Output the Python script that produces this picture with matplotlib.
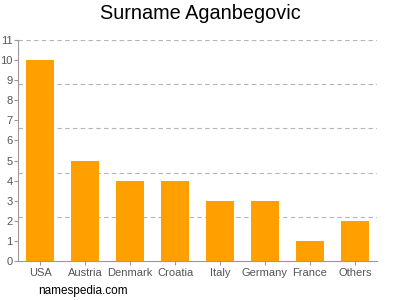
import matplotlib.pyplot as plt
import numpy as np

countries = ['USA', 'Austria', 'Denmark', 'Croatia', 'Italy', 'Germany', 'France', 'Others']
counts = [10, 5, 4, 4, 3, 3, 1, 2]
y_ticks = list(range(0, 12))
grid_levels = [2.2, 4.4, 6.6, 8.8, 11]


def main():
    plt.rcParams['font.family'] = ['Liberation Sans', 'DejaVu Sans']

    fig = plt.figure(figsize=(4, 3), dpi=100)
    ax = fig.add_axes([0.045, 0.13, 0.8975, 0.7367])

    x = np.arange(len(countries))
    ax.bar(x, counts, width=0.62, color='#FFA000', zorder=3)

    # dashed guide lines (not aligned with the integer ticks)
    for g in grid_levels:
        ax.axhline(g, color='#b5b5b5', linestyle=(0, (4, 3)), linewidth=0.8, zorder=1)

    ax.set_xlim(-0.49, 7.49)
    ax.set_ylim(0, 11)
    ax.set_yticks(y_ticks)
    ax.set_xticks(x)
    ax.set_xticklabels(countries)

    for side in ['top', 'right']:
        ax.spines[side].set_visible(False)
    for side in ['left', 'bottom']:
        ax.spines[side].set_color('#999999')
        ax.spines[side].set_linewidth(0.8)

    ax.tick_params(axis='both', colors='#999999', labelcolor='#555555', labelsize=8, length=3, width=0.8)
    ax.tick_params(axis='y', pad=1)
    ax.tick_params(axis='x', pad=2)

    fig.text(0.5, 0.955, 'Surname Aganbegovic', ha='center', va='center', fontsize=14.3, color='#000000')
    fig.text(0.095, 0.03, 'namespedia.com', ha='left', va='center', fontsize=8.5, color='#000000')

    fig.savefig('out.png', dpi=100)


if __name__ == "__main__":
    main()
